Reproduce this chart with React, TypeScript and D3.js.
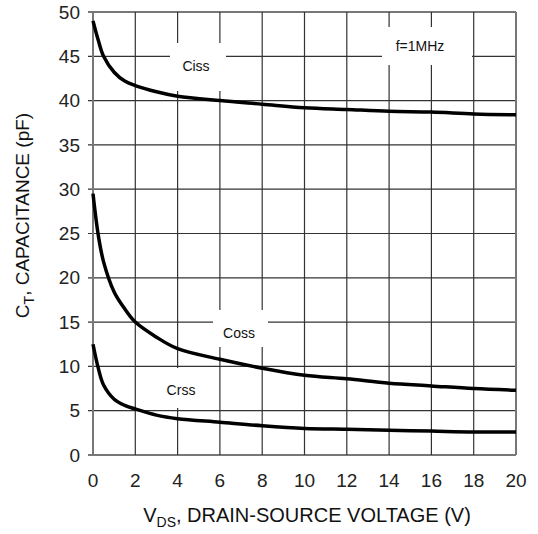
import { useEffect, useRef } from "react";
import * as d3 from "d3";

// V_DS sample points (V)
const vds = [0, 0.25, 0.5, 1, 1.5, 2, 3, 4, 6, 8, 10, 12, 14, 16, 18, 20];
// capacitance curves (pF)
const ciss = [49, 46.8, 45.0, 43.2, 42.2, 41.7, 41.0, 40.5, 40.0, 39.6, 39.2, 39.0, 38.8, 38.7, 38.5, 38.4];
const coss = [29.5, 24.8, 21.8, 18.4, 16.5, 15.0, 13.3, 12.0, 10.8, 9.8, 9.0, 8.6, 8.1, 7.8, 7.5, 7.3];
const crss = [12.5, 9.8, 7.9, 6.3, 5.6, 5.2, 4.5, 4.1, 3.7, 3.3, 3.0, 2.9, 2.8, 2.7, 2.6, 2.6];

const xTicks = [0, 2, 4, 6, 8, 10, 12, 14, 16, 18, 20];
const yTicks = [0, 5, 10, 15, 20, 25, 30, 35, 40, 45, 50];

const W = 538;
const H = 534;
const margin = { top: 12, right: 22, bottom: 79, left: 93 };

const Chart = () => {
  const ref = useRef<SVGSVGElement | null>(null);

  useEffect(() => {
    const svg = d3.select(ref.current);
    svg.selectAll("*").remove();

    const x = d3.scaleLinear().domain([0, 20]).range([margin.left, W - margin.right]);
    const y = d3.scaleLinear().domain([0, 50]).range([H - margin.bottom, margin.top]);
    const font = "'Liberation Sans', Arial, sans-serif";

    const grid = svg.append("g");
    // horizontal grid lines (with small tick stub on the left)
    grid
      .selectAll("line.h")
      .data(yTicks)
      .enter()
      .append("line")
      .attr("x1", x(0) - 5)
      .attr("x2", x(20))
      .attr("y1", (d) => y(d))
      .attr("y2", (d) => y(d))
      .attr("stroke", (d) => (d === 0 || d === 50 ? "#777" : "#333"))
      .attr("stroke-width", (d) => (d === 0 || d === 50 ? 2 : 1.2));
    grid
      .selectAll("line.v")
      .data(xTicks)
      .enter()
      .append("line")
      .attr("x1", (d) => x(d))
      .attr("x2", (d) => x(d))
      .attr("y1", y(50))
      .attr("y2", y(0))
      .attr("stroke", (d) => (d === 0 || d === 20 ? "#777" : "#333"))
      .attr("stroke-width", (d) => (d === 0 || d === 20 ? 2 : 1.2));

    // white boxes behind annotations
    const boxes = [
      { x0: 170, y0: 43, w: 56, h: 48 },
      { x0: 382, y0: 27, w: 90, h: 38 },
      { x0: 213, y0: 310, w: 55, h: 37 },
      { x0: 150, y0: 368, w: 60, h: 40 },
    ];
    svg
      .selectAll("rect.box")
      .data(boxes)
      .enter()
      .append("rect")
      .attr("x", (d) => d.x0)
      .attr("y", (d) => d.y0)
      .attr("width", (d) => d.w)
      .attr("height", (d) => d.h)
      .attr("fill", "white");

    const line = d3
      .line<number>()
      .x((d, i) => x(vds[i]))
      .y((d) => y(d))
      .curve(d3.curveCatmullRom.alpha(0.5));

    svg
      .selectAll("path.curve")
      .data([ciss, coss, crss])
      .enter()
      .append("path")
      .attr("d", (d) => line(d))
      .attr("fill", "none")
      .attr("stroke", "#000")
      .attr("stroke-width", 3.5);

    // tick labels
    svg
      .selectAll("text.yt")
      .data(yTicks)
      .enter()
      .append("text")
      .attr("x", 80)
      .attr("y", (d) => y(d))
      .attr("dy", "0.35em")
      .attr("text-anchor", "end")
      .attr("font-family", font)
      .attr("font-size", 19)
      .attr("fill", "#222")
      .text((d) => d);
    svg
      .selectAll("text.xt")
      .data(xTicks)
      .enter()
      .append("text")
      .attr("x", (d) => x(d))
      .attr("y", 487)
      .attr("text-anchor", "middle")
      .attr("font-family", font)
      .attr("font-size", 19)
      .attr("fill", "#222")
      .text((d) => d);

    // annotations
    const notes = [
      { t: "Ciss", cx: 196, cy: 66 },
      { t: "f=1MHz", cx: 420, cy: 46 },
      { t: "Coss", cx: 239, cy: 333 },
      { t: "Crss", cx: 181, cy: 390 },
    ];
    svg
      .selectAll("text.note")
      .data(notes)
      .enter()
      .append("text")
      .attr("x", (d) => d.cx)
      .attr("y", (d) => d.cy)
      .attr("dy", "0.35em")
      .attr("text-anchor", "middle")
      .attr("font-family", font)
      .attr("font-size", 14)
      .attr("fill", "#111")
      .text((d) => d.t);

    // axis titles
    const xt = svg
      .append("text")
      .attr("x", 307)
      .attr("y", 522)
      .attr("text-anchor", "middle")
      .attr("font-family", font)
      .attr("font-size", 20)
      .attr("fill", "#111");
    xt.append("tspan").text("V");
    xt.append("tspan").attr("font-size", 14).attr("dy", 5).text("DS");
    xt.append("tspan").attr("dy", -5).text(", DRAIN-SOURCE VOLTAGE (V)");

    const yt = svg
      .append("text")
      .attr("transform", `translate(29, ${y(25) - 18}) rotate(-90)`)
      .attr("text-anchor", "middle")
      .attr("font-family", font)
      .attr("font-size", 19)
      .attr("fill", "#111");
    yt.append("tspan").text("C");
    yt.append("tspan").attr("font-size", 14).attr("dy", 5).text("T");
    yt.append("tspan").attr("dy", -5).text(", CAPACITANCE (pF)");
  }, []);

  return (
    <svg
      ref={ref}
      width={W}
      height={H}
      style={{ position: "absolute", left: 0, top: 0, background: "white" }}
    ></svg>
  );
};

export default function App() {
  return <Chart />;
}
